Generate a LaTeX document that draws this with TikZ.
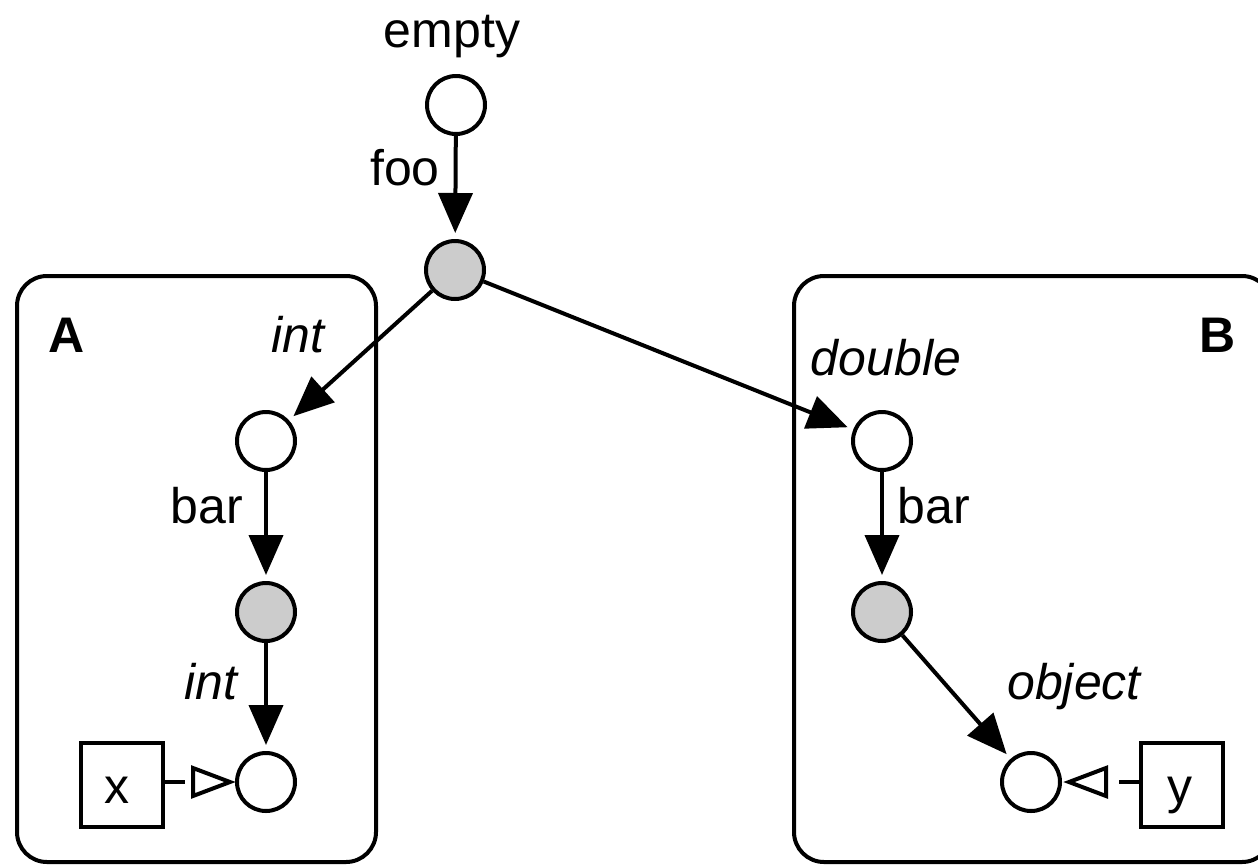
\documentclass[tikz,border=0pt]{standalone}
\usepackage{fontspec}
\setmainfont{Liberation Sans}
\usetikzlibrary{arrows.meta,calc}
\definecolor{fillgray}{HTML}{CCCCCC}
\begin{document}
\begin{tikzpicture}[x=1pt,y=-1pt,
  every node/.style={inner sep=0pt},
  lbl/.style={anchor=base,font=\fontsize{50}{60}\selectfont},
  ilbl/.style={lbl,font=\fontsize{50}{60}\selectfont\itshape},
  blbl/.style={lbl,font=\fontsize{50}{60}\selectfont\bfseries},
  state/.style={circle,draw,line width=4pt,minimum size=58pt,fill=white},
  gstate/.style={state,fill=fillgray},
  group/.style={draw,line width=4pt,rounded corners=30pt},
  port/.style={draw,line width=4pt,minimum width=82pt,minimum height=84pt},
  trans/.style={line width=4pt,-{Triangle[length=40pt,width=34pt]},shorten >=6pt},
  stub/.style={line width=4pt},
  opentip/.style={line width=4pt,line join=miter}
]
\useasboundingbox (0,0) rectangle (1258,865);
% groups
\draw[group] (17,276) rectangle (376,862);
\draw[group] (794,276) rectangle (1272,862);
% states
\node[state]  (empty) at (456,105) {};
\node[gstate] (foo)   at (455,270) {};
\node[state]  (a1) at (266,441) {};
\node[gstate] (a2) at (266,612) {};
\node[state]  (a3) at (266,782) {};
\node[state]  (b1) at (882,441) {};
\node[gstate] (b2) at (882,612) {};
\node[state]  (b3) at (1031,782) {};
\node[port] (x) at (122,785) {};
\node[port] (y) at (1182,785) {};
% labels
\node[lbl]  (tempty) at (452,47) {empty};
\node[lbl]  (tfoo)   at (405,185) {foo};
\node[ilbl] (tint1)  at (298,352) {int};
\node[blbl] (tA)     at (67,352) {A};
\node[blbl] (tB)     at (1218,352) {B};
\node[ilbl] (tdouble) at (886,375) {double};
\node[lbl]  (tbar1)  at (207,523) {bar};
\node[lbl]  (tbar2)  at (934,523) {bar};
\node[ilbl] (tint2)  at (211,699) {int};
\node[ilbl] (tobject) at (1074,699) {object};
\node[lbl]  (tx) at (117,803) {x};
\node[lbl]  (ty) at (1180,803) {y};
% transitions
\draw[trans] (empty) -- (foo);
\draw[trans] (foo) -- (a1);
\draw[trans] (foo) -- (b1);
\draw[trans] (a1) -- (a2);
\draw[trans] (a2) -- (a3);
\draw[trans] (b1) -- (b2);
\draw[trans] (b2) -- (b3);
% port feeds: short stub, gap, open triangle touching the state
\draw[stub] (x.east |- a3) -- ++(20,0);
\draw[opentip] ($(a3.west)+(-5,0)$) -- ++(-37,-14) -- ++(0,28) -- cycle;
\draw[stub] (y.west |- b3) -- ++(-20,0);
\draw[opentip] ($(b3.east)+(7,0)$) -- ++(37,-14) -- ++(0,28) -- cycle;
\end{tikzpicture}
\end{document}
